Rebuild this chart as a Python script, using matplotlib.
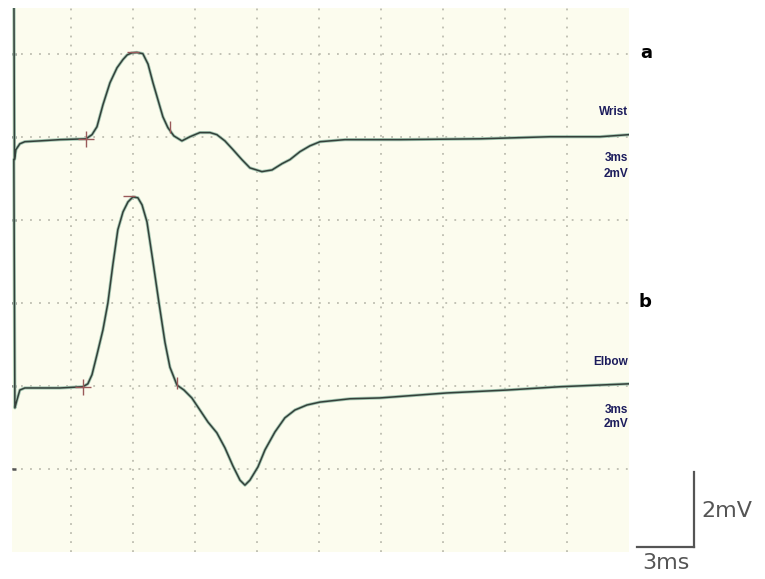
import matplotlib.pyplot as plt

# Trace a (wrist stimulation): time in ms, amplitude in mV (display offset)
wrist_t = [0.24, 0.27, 0.34, 0.53, 0.77, 1.5, 2.47, 3.73, 4.02, 4.26, 4.55, 4.89,
           5.23, 5.52, 5.72, 5.95, 6.19, 6.48, 6.73, 6.97, 7.21, 7.45, 7.69, 7.98, 8.37,
           8.76, 9.24, 9.73, 10.06, 10.45, 10.84, 11.27, 11.66, 12.24, 12.73, 13.21,
           13.6, 14.08, 14.56, 15.05, 16.26, 18.92, 22.79, 26.18, 28.6, 30.0]
wrist_mv = [14.0, 9.45, 9.69, 9.83, 9.88, 9.90, 9.93, 9.95, 10.05, 10.24, 10.77, 11.30,
            11.66, 11.86, 11.97, 12.02, 12.03, 12.0, 11.75, 11.30, 10.89, 10.48, 10.22,
            10.02, 9.90, 10.0, 10.10, 10.10, 10.05, 9.90, 9.69, 9.45, 9.25, 9.16, 9.20,
            9.35, 9.45, 9.64, 9.78, 9.88, 9.93, 9.93, 9.95, 10.0, 10.0, 10.05]

# Trace b (elbow stimulation)
elbow_t = [0.24, 0.29, 0.39, 0.53, 0.77, 2.47, 3.58, 3.82, 4.02, 4.26, 4.55, 4.79,
           5.03, 5.27, 5.52, 5.76, 6.0, 6.24, 6.44, 6.68, 6.97, 7.26, 7.55, 7.79,
           8.13, 8.47, 8.85, 9.24, 9.63, 10.06, 10.45, 10.84, 11.18, 11.42, 11.66,
           12.05, 12.39, 12.87, 13.35, 13.84, 14.42, 15.05, 16.5, 17.95, 21.19, 24.1,
           26.66, 30.0]
elbow_mv = [9.45, 3.47, 3.66, 3.90, 3.95, 3.95, 3.98, 4.05, 4.27, 4.75, 5.35, 6.0,
            6.92, 7.76, 8.19, 8.43, 8.55, 8.53, 8.36, 7.95, 6.99, 6.0, 5.05, 4.45,
            4.02, 3.90, 3.71, 3.42, 3.13, 2.87, 2.51, 2.07, 1.73, 1.61, 1.73,
            2.05, 2.46, 2.89, 3.23, 3.42, 3.54, 3.61, 3.69, 3.71, 3.83, 3.90,
            3.98, 4.05]

# cursor marks placed by the machine
onset_t = [3.73, 3.58]
onset_mv = [9.95, 3.98]
end_t = [7.79, 8.13]
end_mv = [10.24, 4.07]
peak_t = [6.0, 5.8]
peak_mv = [12.03, 8.57]

fig = plt.figure(figsize=(7.65, 5.79), dpi=100)
ax = fig.add_axes([12 / 765, 1 - 552 / 579, 617 / 765, 544 / 579])
ax.set_facecolor('#fcfcee')
ax.set_xlim(0.15, 30.0)
ax.set_ylim(0, 13.1)

ax.set_xticks([3 * k for k in range(1, 10)])
ax.set_yticks([2 * k for k in range(1, 7)])
ax.grid(True, color='#bdbdb0', linestyle=(0, (1, 4)), linewidth=1.3)
ax.tick_params(axis='x', length=0, labelbottom=False)
ax.tick_params(axis='y', direction='in', length=3, width=1.8, color='#555555',
               labelleft=False)
for s in ax.spines.values():
    s.set_visible(False)

# trace: light teal halo with dark line on top
for t, v in [(wrist_t, wrist_mv), (elbow_t, elbow_mv)]:
    ax.plot(t, v, color='#a8c9b5', linewidth=2.3, solid_capstyle='round',
            solid_joinstyle='round', zorder=3)
    ax.plot(t, v, color='#34403a', linewidth=1.1, solid_joinstyle='round', zorder=4)

ax.plot(onset_t, onset_mv, linestyle='none', marker='+', markersize=11,
        markeredgewidth=1.0, color='#9a5a5a', zorder=5)
ax.plot(end_t, end_mv, linestyle='none', marker='|', markersize=9,
        markeredgewidth=1.0, color='#9a5a5a', zorder=5)
ax.plot(peak_t, peak_mv, linestyle='none', marker='_', markersize=8,
        markeredgewidth=1.0, color='#9a5a5a', zorder=5)

# side labels
navy = '#1c1c5c'
lab = dict(family='Liberation Sans', fontweight='bold', color=navy, ha='right',
           va='center', fontsize=8.5)
fig.text(640 / 765, 1 - 53 / 579, 'a', fontsize=13, fontweight='bold', va='center')
fig.text(628 / 765, 1 - 112 / 579, 'Wrist', **lab)
fig.text(628 / 765, 1 - 158 / 579, '3ms', **lab)
fig.text(628 / 765, 1 - 174 / 579, '2mV', **lab)
fig.text(638 / 765, 1 - 302 / 579, 'b', fontsize=13, fontweight='bold', va='center')
fig.text(628 / 765, 1 - 362 / 579, 'Elbow', **lab)
fig.text(628 / 765, 1 - 410 / 579, '3ms', **lab)
fig.text(628 / 765, 1 - 424 / 579, '2mV', **lab)

# calibration bar
fig.add_artist(plt.Line2D([694 / 765, 694 / 765], [1 - 472 / 579, 1 - 547 / 579],
                          color='#555555', linewidth=1.6))
fig.add_artist(plt.Line2D([637 / 765, 694 / 765], [1 - 547 / 579, 1 - 547 / 579],
                          color='#555555', linewidth=1.6))
fig.text(701 / 765, 1 - 511 / 579, '2mV', fontsize=16, color='#555555', va='center')
fig.text(666 / 765, 1 - 563 / 579, '3ms', fontsize=16, color='#555555',
         ha='center', va='center')

fig.savefig('out.png', dpi=100)
